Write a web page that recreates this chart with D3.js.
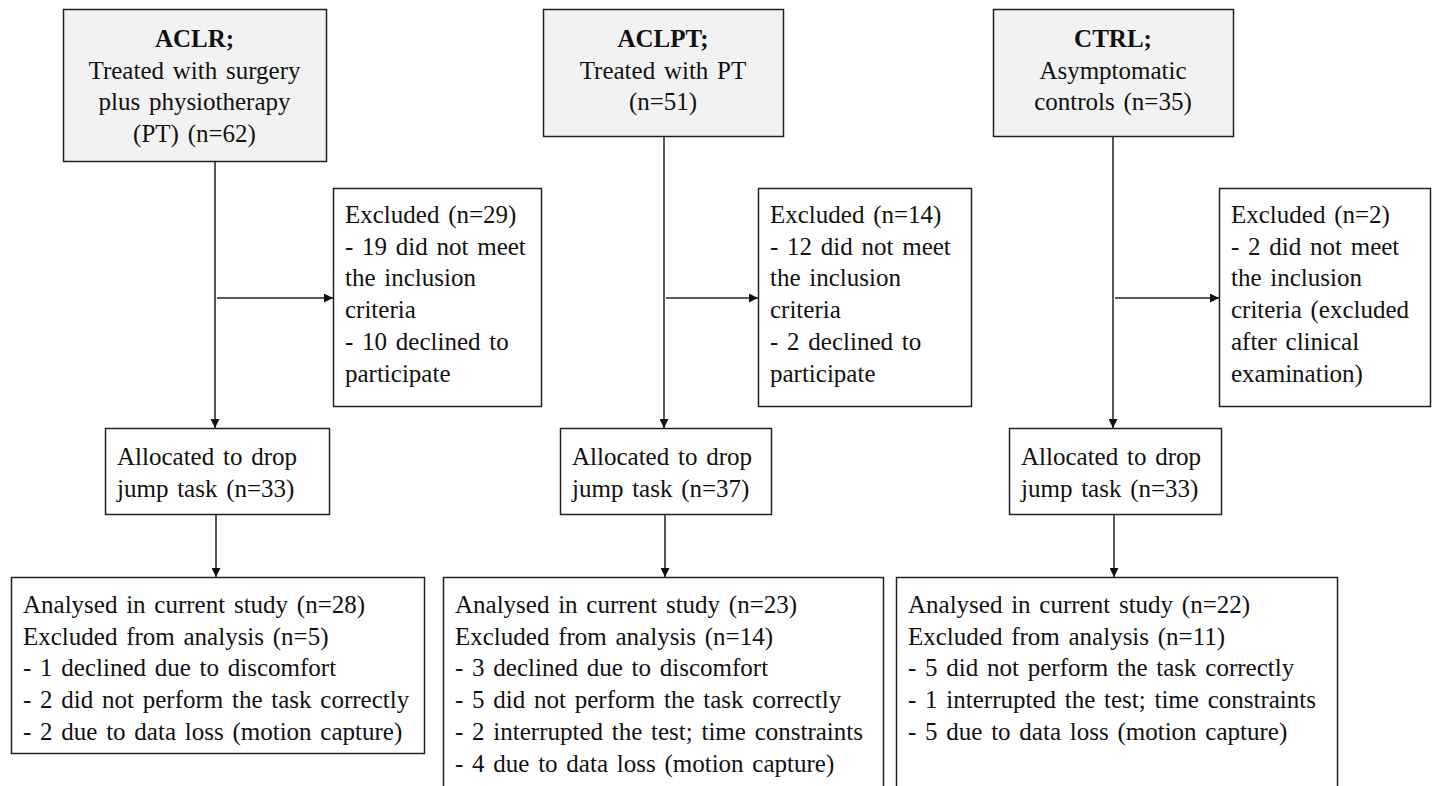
<!DOCTYPE html>
<html>
<head>
<meta charset="utf-8">
<script src="https://cdn.jsdelivr.net/npm/d3@7"></script>
<style>
  body { margin: 0; background: #fff; }
</style>
</head>
<body>
<div id="chart"></div>
<script>
// groups (one column each)
var groups = ["ACLR", "ACLPT", "CTRL"];

// top boxes: first line bold, rest normal
var groupTitles = ["ACLR;", "ACLPT;", "CTRL;"];
var groupLines = [
    ["Treated with surgery", "plus physiotherapy", "(PT) (n=62)"],
    ["Treated with PT", "(n=51)"],
    ["Asymptomatic", "controls (n=35)"]
];

// excluded before allocation
var excludedLines = [
    ["Excluded (n=29)", "- 19 did not meet", "the inclusion", "criteria", "- 10 declined to", "participate"],
    ["Excluded (n=14)", "- 12 did not meet", "the inclusion", "criteria", "- 2 declined to", "participate"],
    ["Excluded (n=2)", "- 2 did not meet", "the inclusion", "criteria (excluded", "after clinical", "examination)"]
];

// allocated to drop jump
var allocatedLines = [
    ["Allocated to drop", "jump task (n=33)"],
    ["Allocated to drop", "jump task (n=37)"],
    ["Allocated to drop", "jump task (n=33)"]
];

// analysed
var analysedLines = [
    ["Analysed in current study (n=28)", "Excluded from analysis (n=5)", "- 1 declined due to discomfort",
     "- 2 did not perform the task correctly", "- 2 due to data loss (motion capture)"],
    ["Analysed in current study (n=23)", "Excluded from analysis (n=14)", "- 3 declined due to discomfort",
     "- 5 did not perform the task correctly", "- 2 interrupted the test; time constraints",
     "- 4 due to data loss (motion capture)"],
    ["Analysed in current study (n=22)", "Excluded from analysis (n=11)", "- 5 did not perform the task correctly",
     "- 1 interrupted the test; time constraints", "- 5 due to data loss (motion capture)"]
];

var width = 1434;
var height = 786;
var lineH = 31.7;
var font = "'Liberation Serif', 'DejaVu Serif', serif";

// column centre of each flow line
var x = d3.scalePoint().domain(groups).range([215, 1113]);

// box layout relative to the column line: [left offset, width]
var layout = {
    top:       { y: 9,   h: [152, 127, 127], dx: [[-152, 263], [-121, 240], [-120, 240]] },
    excluded:  { y: 188, h: [218, 218, 218], dx: [[118, 208], [94, 213], [106, 211]] },
    allocated: { y: 428, h: [86, 86, 86],    dx: [[-110, 224], [-104, 211], [-104, 212]] },
    analysed:  { y: 577, h: [176, 240, 240], dx: [[-204, 413], [-221, 440], [-217, 441]] }
};
var arrowY = 298;

var svg = d3.select("#chart").append("svg")
    .attr("width", width)
    .attr("height", height)
    .attr("font-family", font)
    .attr("font-size", 25)
    .attr("word-spacing", 2.5)
    .attr("fill", "#111");

svg.append("defs").append("marker")
    .attr("id", "arrow")
    .attr("viewBox", "0 0 10 10")
    .attr("refX", 10)
    .attr("refY", 5)
    .attr("markerWidth", 9)
    .attr("markerHeight", 9)
    .attr("markerUnits", "userSpaceOnUse")
    .attr("orient", "auto")
    .append("path")
    .attr("d", "M0,0 L10,5 L0,10 z")
    .attr("fill", "#111");

function box(kind, i, fill) {
    var L = layout[kind];
    var cx = x(groups[i]);
    var b = { x: cx + L.dx[i][0], y: L.y, w: L.dx[i][1], h: L.h[i] };
    svg.append("rect")
        .attr("x", b.x + 0.5)
        .attr("y", b.y + 0.5)
        .attr("width", b.w)
        .attr("height", b.h)
        .attr("fill", fill)
        .attr("stroke", "#222")
        .attr("stroke-width", 1.5);
    return b;
}

function leftText(b, lines, firstBase) {
    svg.append("g").selectAll("text")
        .data(lines)
        .enter().append("text")
        .attr("x", b.x + 12)
        .attr("y", (d, k) => b.y + firstBase + k * lineH)
        .style("font-family", font)
        .text(d => d);
}

function arrow(x1, y1, x2, y2) {
    svg.append("line")
        .attr("x1", x1).attr("y1", y1)
        .attr("x2", x2).attr("y2", y2)
        .attr("stroke", "#222")
        .attr("stroke-width", 1.5)
        .attr("marker-end", "url(#arrow)");
}

groups.forEach(function (g, i) {
    var cx = x(g);

    // top box
    var t = box("top", i, "#f2f2f2");
    var tc = t.x + t.w / 2;
    svg.append("text")
        .attr("x", tc)
        .attr("y", t.y + 38)
        .attr("text-anchor", "middle")
        .attr("font-weight", "bold")
        .style("font-family", font)
        .text(groupTitles[i]);
    svg.append("g").selectAll("text")
        .data(groupLines[i])
        .enter().append("text")
        .attr("x", tc)
        .attr("y", (d, k) => t.y + 38 + (k + 1) * lineH)
        .attr("text-anchor", "middle")
        .style("font-family", font)
        .text(d => d);

    var e = box("excluded", i, "#fff");
    leftText(e, excludedLines[i], 35);

    var a = box("allocated", i, "#fff");
    leftText(a, allocatedLines[i], 37);

    var n = box("analysed", i, "#fff");
    leftText(n, analysedLines[i], 36);

    // flow lines
    arrow(cx, t.y + t.h, cx, a.y);
    arrow(cx + 2, arrowY, e.x, arrowY);
    arrow(cx + 1, a.y + a.h, cx + 1, n.y);
});
</script>
</body>
</html>
